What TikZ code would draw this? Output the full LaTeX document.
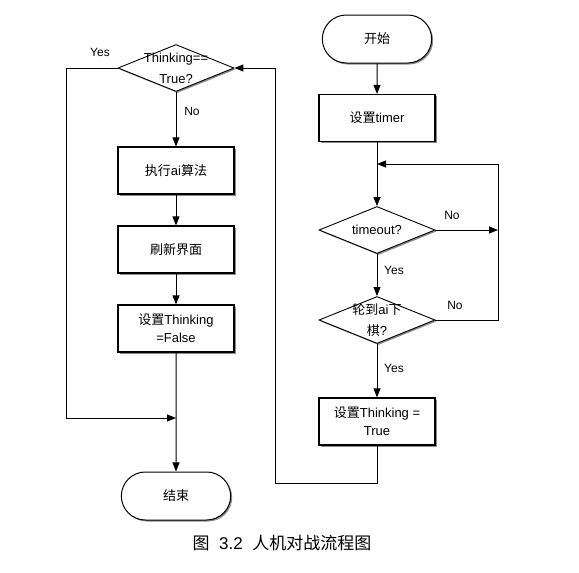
\documentclass[tikz,border=0pt]{standalone}
\usepackage{fontspec}
\setmainfont{Liberation Sans}
\newfontfamily\cjk{Noto Sans CJK SC}
\newcommand{\zh}[1]{{\cjk #1}}
\usetikzlibrary{shapes.geometric,shapes.misc,arrows.meta,shadows}
\begin{document}
\begin{tikzpicture}[x=1pt,y=-1pt,
    shade/.style={drop shadow={shadow xshift=1.5pt,shadow yshift=-1.5pt,fill=black!45,opacity=1}},
    rect/.style={shape=rectangle, draw=black, line width=1.2pt, fill=white, shade,
        minimum width=116pt, minimum height=47pt, align=center, font=\fontsize{13}{18}\selectfont},
    term/.style={shape=rounded rectangle, draw=black, line width=1pt, fill=white, shade,
        minimum width=116pt, minimum height=48pt, font=\fontsize{13}{18}\selectfont},
    dec/.style={shape=diamond, draw=black, line width=0.9pt, fill=white, shade,
        minimum width=116pt, minimum height=47pt, inner sep=0pt},
    dectext/.style={align=center, font=\fontsize{13}{21}\selectfont},
    line/.style={draw=black, line width=1pt},
    arr/.style={line, -{Triangle[length=9pt,width=7pt]}},
    lbl/.style={font=\fontsize{12}{14}\selectfont}]
    \useasboundingbox (0,0) rectangle (579,573);
    % right column
    \node (start) at (377,39) [term] {\zh{开始}};
    \node (timer) at (377,118) [rect] {\zh{设置}timer};
    \node (timeout) at (377,230) [dec, label={[dectext]center:timeout?}] {};
    \node (turn) at (377,320) [dec, label={[dectext]center:{\zh{轮到}ai\zh{下}\\\zh{棋}?}}] {};
    \node (setTrue) at (377,421.5) [rect] {\zh{设置}Thinking =\\True};
    % left column
    \node (think) at (176,68) [dec, label={[dectext]center:{Thinking==\\True?}}] {};
    \node (exec) at (176,170.5) [rect] {\zh{执行}ai\zh{算法}};
    \node (refresh) at (176,249.5) [rect] {\zh{刷新界面}};
    \node (setFalse) at (176,328.5) [rect] {\zh{设置}Thinking\\=False};
    \node (end) at (176,496) [term] {\zh{结束}};
    % turning points
    \coordinate (merge) at (377,164);
    \coordinate (rt) at (498,164);
    \coordinate (rb) at (498,320);
    \coordinate (tm) at (498,230);
    \coordinate (lb) at (66,418);
    \coordinate (jn) at (176,418);
    \coordinate (bb) at (275,483);
    % connectors
    \draw[arr] (start) -- (timer);
    \draw[arr] (timer) -- (timeout);
    \draw[arr] (timeout) -- (tm);
    \draw[line] (turn.east) -- (rb) -- (rt);
    \draw[arr] (rt) -- (merge);
    \draw[arr] (timeout) -- (turn);
    \draw[arr] (turn) -- (setTrue);
    \draw[arr] (setTrue.south) |- (bb) |- (think.east);
    \draw[arr] (think) -- (exec);
    \draw[arr] (exec) -- (refresh);
    \draw[arr] (refresh) -- (setFalse);
    \draw[arr] (setFalse) -- (end);
    \draw[arr] (think.west) -| (lb) -- (jn);
    % labels
    \node (yes1) at (100,52) [lbl] {Yes};
    \node (no1) at (192,111) [lbl] {No};
    \node (no2) at (452,215) [lbl] {No};
    \node (yes2) at (394,270) [lbl] {Yes};
    \node (no3) at (455,305) [lbl] {No};
    \node (yes3) at (394,368) [lbl] {Yes};
    \node (cap) at (282,543) [font=\fontsize{17}{19}\selectfont] {\zh{图}\ \ 3.2\ \ \zh{人机对战流程图}};
\end{tikzpicture}
\end{document}
